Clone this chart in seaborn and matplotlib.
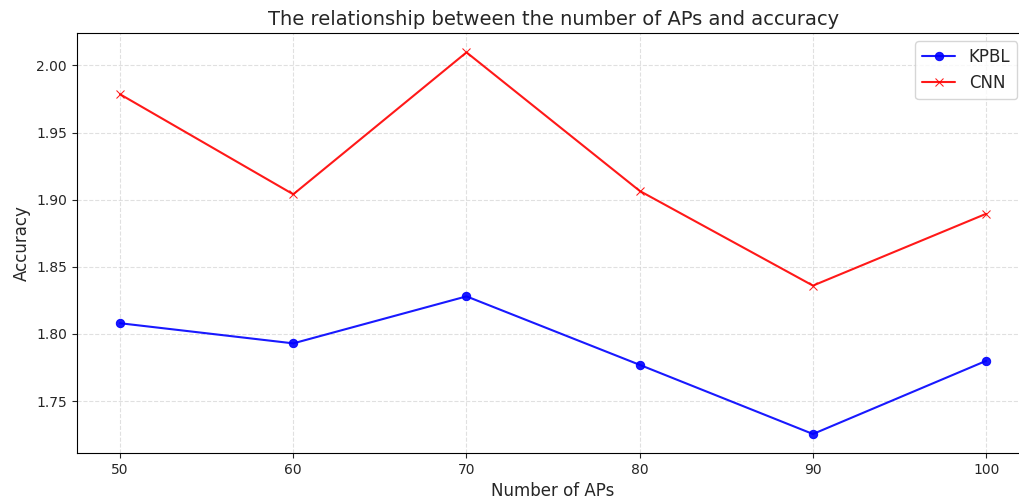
import pandas as pd
import seaborn as sns
import matplotlib.pyplot as plt

aps = [50, 60, 70, 80, 90, 100]
kpbl = [1.808, 1.793, 1.828, 1.777, 1.7255, 1.780]
cnn = [1.9785, 1.904, 2.0097, 1.9065, 1.836, 1.8895]

sns.set_style('white')
fig = plt.figure(figsize=(10.19, 5.04), dpi=100)
# axes run a bit past the right edge, like the reference crop
ax = fig.add_axes([0.0753, 0.101, 0.935, 0.833])

# seaborn won't mix filled + line-art markers in one call, so two calls
sns.lineplot(x=aps, y=kpbl, color='blue', marker='o', markersize=6,
             markeredgecolor='blue', linewidth=1.5, alpha=0.9, label='KPBL', ax=ax)
sns.lineplot(x=aps, y=cnn, color='red', marker='x', markersize=6,
             markeredgecolor='red', linewidth=1.5, alpha=0.9, label='CNN', ax=ax)

ax.set_title('The relationship between the number of APs and accuracy', fontsize=14)
ax.set_xlabel('Number of APs', fontsize=12)
ax.set_ylabel('Accuracy', fontsize=12)
ax.grid(True, linestyle='--', alpha=0.6)
for s in ax.spines.values():
    s.set_color('black')
ax.tick_params(axis='both', length=3.5, width=0.8, direction='out', left=True, bottom=True)
# keep legend inside the visible picture
ax.legend(fontsize=12, loc='upper right', bbox_to_anchor=(0.998, 0.918),
          bbox_transform=fig.transFigure, borderaxespad=0)

fig.savefig('out.png', dpi=100)
